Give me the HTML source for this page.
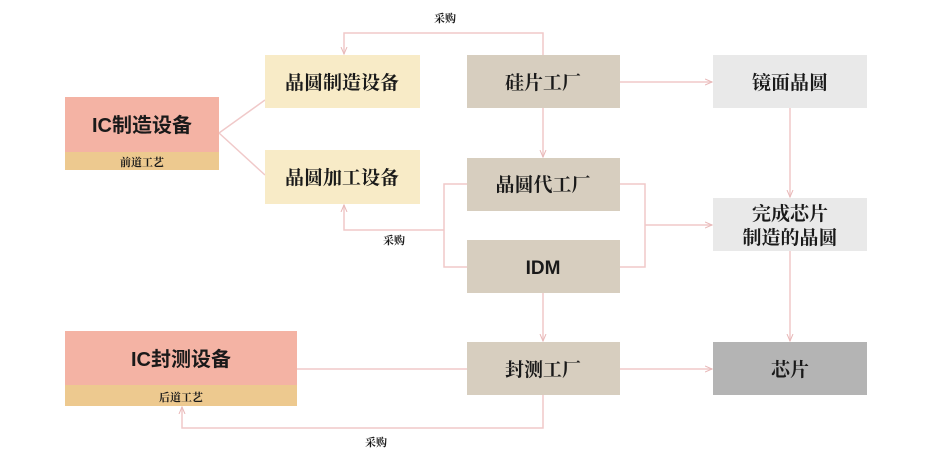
<!DOCTYPE html>
<html><head><meta charset="utf-8"><style>
html,body{margin:0;padding:0;background:#fff;}
svg text{font-family:"Liberation Serif","Noto Serif CJK SC",serif;font-weight:bold;}
.b{font-family:"Liberation Sans","Noto Sans CJK SC",sans-serif;font-weight:bold;}
</style></head><body>
<svg width="933" height="462" viewBox="0 0 933 462" xmlns="http://www.w3.org/2000/svg">
<defs><marker id="a" markerWidth="8" markerHeight="8" refX="7" refY="4" orient="auto" markerUnits="userSpaceOnUse"><path d="M0,1 L7,4 L0,7" fill="none" stroke="#e8b8b8" stroke-width="1"/></marker></defs>
<g fill="none" stroke="#f0c9c9" stroke-width="1.5">
<path d="M543,55 V33 H344 V54" marker-end="url(#a)"/>
<path d="M219,133 L265,100 M219,133 L265,175"/>
<path d="M543,108 V157" marker-end="url(#a)"/>
<path d="M467,184 H444 V267 H467 M444,230 H344 V205" marker-end="url(#a)"/>
<path d="M620,82 H712" marker-end="url(#a)"/>
<path d="M620,184 H645 V267 H620 M645,225 H712" marker-end="url(#a)"/>
<path d="M790,108 V197" marker-end="url(#a)"/>
<path d="M790,251 V341" marker-end="url(#a)"/>
<path d="M543,293 V341" marker-end="url(#a)"/>
<path d="M467,369 H297"/>
<path d="M620,369 H712" marker-end="url(#a)"/>
<path d="M543,395 V428 H182 V407" marker-end="url(#a)"/>
</g>
<rect x="65" y="97" width="154" height="55" fill="#f4b3a4"/>
<rect x="65" y="152" width="154" height="18" fill="#edc98f"/>
<rect x="65" y="331" width="232" height="54" fill="#f4b3a4"/>
<rect x="65" y="385" width="232" height="21" fill="#edc98f"/>
<rect x="265" y="55" width="155" height="53" fill="#f8ebc7"/>
<rect x="265" y="150" width="155" height="54" fill="#f8ebc7"/>
<rect x="467" y="55" width="153" height="53" fill="#d7cebf"/>
<rect x="467" y="158" width="153" height="53" fill="#d7cebf"/>
<rect x="467" y="240" width="153" height="53" fill="#d7cebf"/>
<rect x="467" y="342" width="153" height="53" fill="#d7cebf"/>
<rect x="713" y="55" width="154" height="53" fill="#e9e9e9"/>
<rect x="713" y="198" width="154" height="53" fill="#e9e9e9"/>
<rect x="713" y="342" width="154" height="53" fill="#b4b4b4"/>
<g fill="#1a1a1a" text-anchor="middle" font-size="19">
<text x="142" y="132" class="b" font-size="20">IC制造设备</text>
<text x="142" y="166" font-size="11">前道工艺</text>
<text x="181" y="366" class="b" font-size="20">IC封测设备</text>
<text x="181" y="401" font-size="11">后道工艺</text>
<text x="342" y="89">晶圆制造设备</text>
<text x="342" y="184">晶圆加工设备</text>
<text x="543" y="89">硅片工厂</text>
<text x="543" y="191">晶圆代工厂</text>
<text x="543" y="274" class="b" font-size="19">IDM</text>
<text x="543" y="376">封测工厂</text>
<text x="790" y="89">镜面晶圆</text>
<text x="790" y="220">完成芯片</text>
<text x="790" y="244">制造的晶圆</text>
<text x="790" y="376">芯片</text>
<text x="445" y="22" font-size="11">采购</text>
<text x="394" y="244" font-size="11">采购</text>
<text x="376" y="446" font-size="11">采购</text>
</g>
</svg>
</body></html>
